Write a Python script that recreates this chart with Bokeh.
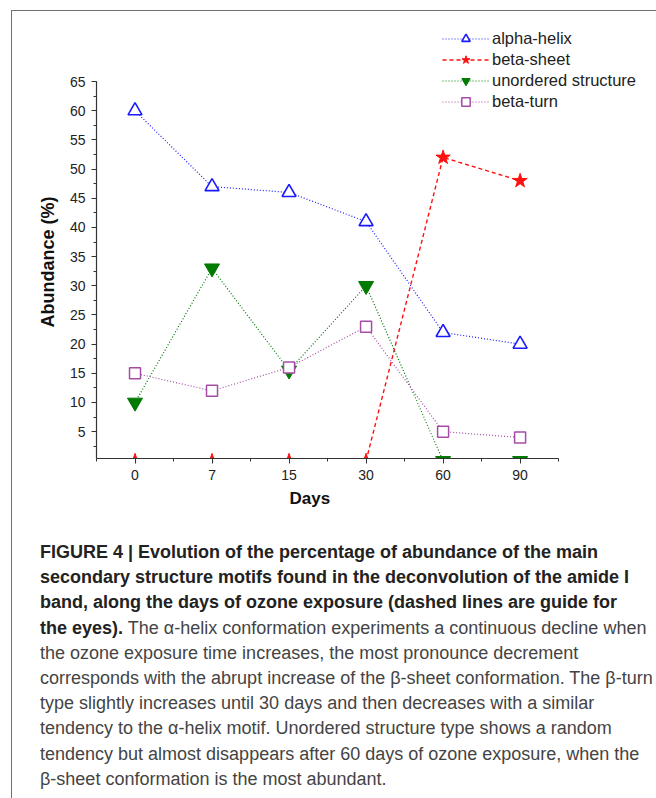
from bokeh.plotting import figure
from bokeh.models import (Legend, LegendItem, FixedTicker, SingleIntervalTicker,
                          Range1d, Div, Title)
from bokeh.layouts import column
from bokeh.embed import file_html
from bokeh.resources import INLINE

# ---- data ----
days = ["0", "7", "15", "30", "60", "90"]
alpha_helix = [60, 47, 46, 41, 22, 20]
beta_sheet = [0, 0, 0, 0, 52, 48]
unordered = [10, 33, 15.5, 30, 0, 0]
beta_turn = [15, 12, 16, 23, 5, 4]
series_names = ["alpha-helix", "beta-sheet", "unordered structure", "beta-turn"]
y_axis_min, y_axis_max = 0.4, 65
x_label = "Days"
y_label = "Abundance (%)"

x = list(range(len(days)))
FONT = "Liberation Sans"

# The frame extends above and to the right of the axes (axes limited with
# bounds) so that the legend, which sits outside the axes, is not clipped.
p = figure(width=654, height=520,
           x_range=Range1d(-0.5, 6.68), y_range=Range1d(y_axis_min, 75.3),
           output_backend="svg", toolbar_location=None,
           min_border_left=96, min_border_right=5,
           min_border_top=21, min_border_bottom=62)
p.grid.visible = False
p.outline_line_color = None
p.background_fill_color = "white"
p.border_fill_color = "white"

BLUE = "#1a1aff"
RED = "#ff1010"
GREEN = "#007a00"
PURPLE = "#a64ca6"

l1 = p.line(x, alpha_helix, line_color=BLUE, line_dash="1 2", line_width=1.2)
m1 = p.scatter(x, alpha_helix, marker="triangle", size=14, line_color=BLUE,
               line_width=1.6, fill_color="white")
l2 = p.line(x, beta_sheet, line_color=RED, line_dash="4 3", line_width=1.4)
m2 = p.scatter(x, beta_sheet, marker="star", size=15, line_color=RED,
               fill_color=RED)
l3 = p.line(x, unordered, line_color=GREEN, line_dash="1 2", line_width=1.2)
m3 = p.scatter(x, unordered, marker="inverted_triangle", size=15,
               line_color=GREEN, fill_color=GREEN)
l4 = p.line(x, beta_turn, line_color=PURPLE, line_dash="1 2", line_width=1.2)
m4 = p.scatter(x, beta_turn, marker="square", size=11, line_color=PURPLE,
               line_width=1.5, fill_color="white")

# axes
xa = p.xaxis[0]
xa.ticker = FixedTicker(ticks=x, minor_ticks=[i - 0.5 for i in range(len(days) + 1)])
xa.major_label_overrides = {i: d for i, d in enumerate(days)}
xa.bounds = (-0.5, len(days) - 0.5)
ya = p.yaxis[0]
ya.ticker = SingleIntervalTicker(interval=5, num_minor_ticks=2)
ya.bounds = (y_axis_min, y_axis_max)

for ax in (xa, ya):
    ax.axis_line_color = "#333333"
    ax.axis_line_width = 1.2
    ax.major_tick_line_color = "#333333"
    ax.minor_tick_line_color = "#333333"
    ax.major_tick_in = 0
    ax.major_tick_out = 5
    ax.minor_tick_in = 0
    ax.minor_tick_out = 3
    ax.major_label_text_font = FONT
    ax.major_label_text_font_size = "14px"
    ax.major_label_text_color = "#222222"
xa.major_label_standoff = 6
ya.major_label_standoff = 6

# axis titles as side-panel titles, placed along the axes
xt = Title(text=x_label, align="left", offset=193, standoff=8,
           text_font=FONT, text_font_size="17px", text_font_style="bold",
           text_color="#111111")
yt = Title(text=y_label, align="left", offset=131, standoff=17,
           text_font=FONT, text_font_size="18px", text_font_style="bold",
           text_color="#111111")
p.add_layout(xt, "below")
p.add_layout(yt, "left")

legend = Legend(items=[
    LegendItem(label=series_names[0], renderers=[l1, m1]),
    LegendItem(label=series_names[1], renderers=[l2, m2]),
    LegendItem(label=series_names[2], renderers=[l3, m3]),
    LegendItem(label=series_names[3], renderers=[l4, m4]),
], location=(346, 346))
legend.background_fill_alpha = 0
legend.border_line_color = None
legend.glyph_width = 47
legend.glyph_height = 21
legend.label_height = 21
legend.spacing = 0
legend.padding = 0
legend.margin = 0
legend.label_standoff = 3
legend.label_text_font = FONT
legend.label_text_font_size = "16.5px"
legend.label_text_color = "#222222"
p.add_layout(legend)

caption_lines_bold = [
    "FIGURE 4 | Evolution of the percentage of abundance of the main",
    "secondary structure motifs found in the deconvolution of the amide I",
    "band, along the days of ozone exposure (dashed lines are guide for",
]
caption_mixed_bold = "the eyes)."
caption_lines_regular = [
    " The \u03b1-helix conformation experiments a continuous decline when",
    "the ozone exposure time increases, the most pronounce decrement",
    "corresponds with the abrupt increase of the \u03b2-sheet conformation. The \u03b2-turn",
    "type slightly increases until 30 days and then decreases with a similar",
    "tendency to the \u03b1-helix motif. Unordered structure type shows a random",
    "tendency but almost disappears after 60 days of ozone exposure, when the",
    "\u03b2-sheet conformation is the most abundant.",
]

html = ('<div style="position:fixed;left:11px;top:10px;width:1px;height:790px;background:#707070;"></div>'
        '<div style="position:fixed;left:11px;top:10px;width:645px;height:1px;background:#707070;"></div>')
html += ('<div style="font-family:\'Liberation Sans\',sans-serif;font-size:18px;'
         'line-height:25.2px;color:#444;white-space:nowrap;padding-left:35px;'
         'padding-top:15px;">')
html += '<b style="color:#222">' + "<br>".join(caption_lines_bold) + "<br>" + caption_mixed_bold + "</b>"
html += caption_lines_regular[0] + "<br>" + "<br>".join(caption_lines_regular[1:])
html += "</div>"
div = Div(text=html, width=654, height=270)

layout = column(p, div)

open("out.html", "w").write(file_html(layout, INLINE))
